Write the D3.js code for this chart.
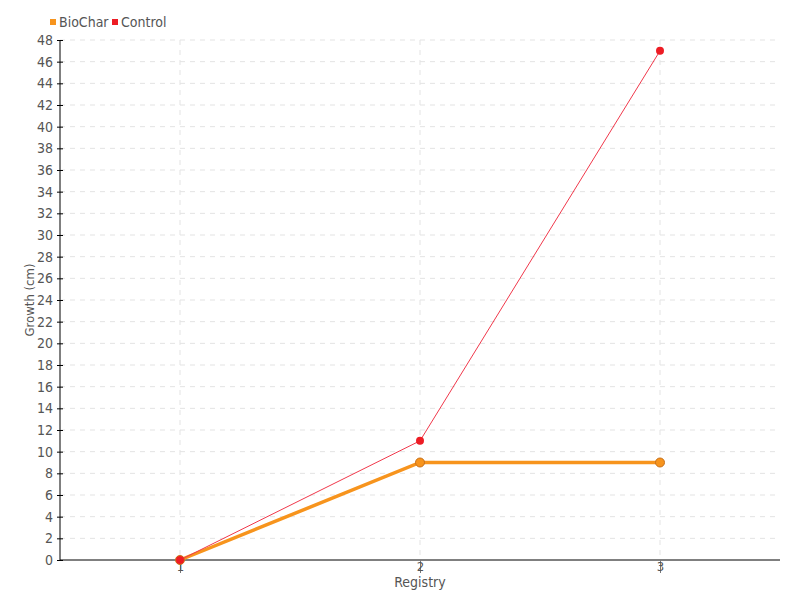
<!DOCTYPE html>
<html>
<head>
<meta charset="utf-8">
<script src="https://cdn.jsdelivr.net/npm/d3@7"></script>
<style>
  body { margin: 0; background: #fff; }
  svg text { font-family: "DejaVu Sans Condensed", "DejaVu Sans", sans-serif; font-stretch: condensed; fill: #555; }
</style>
</head>
<body>
<svg id="chart" width="800" height="600"></svg>
<script>
const registries = ["1", "2", "3"];
const bioChar = [0, 9, 9];
const control = [0, 11, 47];
const yTicks = d3.range(0, 49, 2);

const width = 800;
const height = 600;
const margin = { top: 40, right: 20, bottom: 40, left: 60 };

const svg = d3.select("#chart");

const x = d3.scalePoint().domain(registries).range([margin.left, width - margin.right]).padding(0.5);
const y = d3.scaleLinear().domain([0, 48]).range([height - margin.bottom, margin.top]);

// Grid
const grid = svg.append("g").attr("stroke", "#e3e3e3").attr("stroke-dasharray", "5,5");
grid.selectAll("line.h")
  .data(yTicks.filter((d) => d > 0))
  .join("line")
  .attr("x1", margin.left).attr("x2", width - margin.right)
  .attr("y1", (d) => y(d)).attr("y2", (d) => y(d));
grid.selectAll("line.v")
  .data(registries)
  .join("line")
  .attr("x1", (d) => x(d)).attr("x2", (d) => x(d))
  .attr("y1", margin.top).attr("y2", height - margin.bottom);

// Y axis
const yAxis = svg.append("g")
  .attr("transform", `translate(${margin.left},0)`)
  .call(d3.axisLeft(y).tickValues(yTicks).tickSize(3).tickPadding(4));
yAxis.selectAll("line").attr("stroke", "#000").attr("x2", 3).attr("x1", -3);
yAxis.select(".domain").attr("stroke", "#000").attr("d", `M0,${y(48)}V${y(0)}`);
yAxis.selectAll("text").style("font-size", "14px").attr("fill", "#555");

// X axis
const xAxis = svg.append("g")
  .attr("transform", `translate(0,${height - margin.bottom})`)
  .call(d3.axisBottom(x).tickSize(13).tickPadding(-11));
xAxis.select(".domain").attr("stroke", "#000").attr("d", `M${margin.left},0H${width - margin.right}`);
xAxis.selectAll("line").attr("stroke", "#777");
xAxis.selectAll("text").style("font-size", "13px").attr("fill", "#555").attr("dy", "0.71em");

// Axis titles
svg.append("text")
  .attr("transform", `translate(34,${(margin.top + height - margin.bottom) / 2}) rotate(-90)`)
  .attr("text-anchor", "middle")
  .style("font-size", "13px")
  .text("Growth (cm)");
svg.append("text")
  .attr("x", x("2")).attr("y", 587)
  .attr("text-anchor", "middle")
  .style("font-size", "14px")
  .text("Registry");

// Lines
const line = (vals) => d3.line().x((d, i) => x(registries[i])).y((d) => y(d))(vals);

svg.append("path")
  .attr("d", line(bioChar))
  .attr("fill", "none").attr("stroke", "#f7941d").attr("stroke-width", 3.5);
svg.append("g").selectAll("circle")
  .data(bioChar)
  .join("circle")
  .attr("cx", (d, i) => x(registries[i])).attr("cy", (d) => y(d))
  .attr("r", 4.5)
  .attr("fill", "#f7941d").attr("stroke", "#c8701a").attr("stroke-width", 1);

svg.append("path")
  .attr("d", line(control))
  .attr("fill", "none").attr("stroke", "#f0384b").attr("stroke-width", 1);
svg.append("g").selectAll("circle")
  .data(control)
  .join("circle")
  .attr("cx", (d, i) => x(registries[i])).attr("cy", (d) => y(d))
  .attr("r", 4)
  .attr("fill", "#ed1c24");

// Legend
const legend = svg.append("g").attr("transform", "translate(50,22)");
const items = [["BioChar", "#f7941d", 0], ["Control", "#ed1c24", 62]];
items.forEach(([name, color, dx]) => {
  legend.append("rect").attr("x", dx).attr("y", -3).attr("width", 6).attr("height", 6).attr("fill", color);
  legend.append("text").attr("x", dx + 9).attr("y", 0).attr("dy", "0.35em")
    .style("font-size", "14px").text(name);
});
</script>
</body>
</html>
